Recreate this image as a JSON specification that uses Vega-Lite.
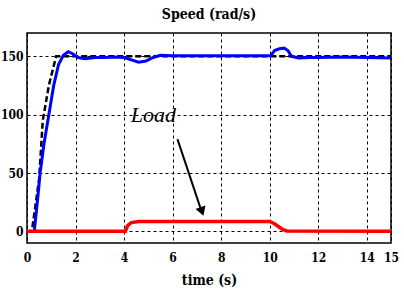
{
  "$schema": "https://vega.github.io/schema/vega-lite/v6.json",
  "width": 364,
  "height": 210,
  "autosize": {"type": "none"},
  "padding": {"left": 27, "top": 33, "right": 13, "bottom": 54},
  "background": "white",
  "title": {"text": "Speed (rad/s)", "font": "DejaVu Serif Condensed", "fontSize": 14, "fontWeight": "bold", "color": "black", "anchor": "middle", "offset": 11},
  "config": {
    "view": {"stroke": "black", "strokeWidth": 1.5},
    "axis": {"labelFont": "DejaVu Serif Condensed", "labelFontWeight": "bold", "labelFontSize": 12, "labelColor": "black", "ticks": false, "domain": false, "grid": true, "gridColor": "black", "gridDash": [3, 3], "gridOpacity": 1, "gridWidth": 1, "titleFont": "DejaVu Serif Condensed", "titleFontSize": 14, "titleFontWeight": "bold", "titleColor": "black"}
  },
  "datasets": {
    "ref": [
      {"t": 0, "v": 0}, {"t": 0.2, "v": 0}, {"t": 0.5, "v": 45}, {"t": 0.65, "v": 95}, {"t": 0.9, "v": 125}, {"t": 1.2, "v": 150}, {"t": 15, "v": 150}
    ],
    "speed": [
      {"t": 0.3, "v": 0}, {"t": 0.45, "v": 30}, {"t": 0.54, "v": 50}, {"t": 0.7, "v": 75}, {"t": 0.9, "v": 100}, {"t": 1.1, "v": 125}, {"t": 1.3, "v": 143}, {"t": 1.5, "v": 151}, {"t": 1.7, "v": 154}, {"t": 1.9, "v": 152}, {"t": 2.1, "v": 149}, {"t": 2.4, "v": 148}, {"t": 2.8, "v": 149}, {"t": 3.2, "v": 149}, {"t": 3.6, "v": 149.5}, {"t": 4.0, "v": 149}, {"t": 4.3, "v": 147}, {"t": 4.6, "v": 145}, {"t": 4.9, "v": 146}, {"t": 5.2, "v": 149}, {"t": 5.5, "v": 151}, {"t": 6, "v": 150.5}, {"t": 7, "v": 150.5}, {"t": 8, "v": 150.5}, {"t": 9, "v": 150.5}, {"t": 10.05, "v": 150.5}, {"t": 10.2, "v": 155}, {"t": 10.4, "v": 156.5}, {"t": 10.6, "v": 157}, {"t": 10.75, "v": 155}, {"t": 10.9, "v": 150}, {"t": 11.2, "v": 148.5}, {"t": 11.6, "v": 149}, {"t": 12, "v": 149}, {"t": 13, "v": 149.5}, {"t": 14, "v": 149}, {"t": 15, "v": 148.5}
    ],
    "load": [
      {"t": 0, "v": 0}, {"t": 4.05, "v": 0}, {"t": 4.15, "v": 5}, {"t": 4.3, "v": 7.5}, {"t": 4.6, "v": 8.5}, {"t": 10, "v": 8.5}, {"t": 10.2, "v": 6.5}, {"t": 10.5, "v": 2}, {"t": 10.7, "v": 0.3}, {"t": 15, "v": 0}
    ],
    "label": [{"t": 5.21, "v": 99.6, "text": "Load"}],
    "arrow": [{"t": 6.2, "v": 79, "t2": 7.18, "v2": 18}],
    "head": [{"t": 7.21, "v": 17}]
  },
  "encoding": {
    "x": {"field": "t", "type": "quantitative", "scale": {"domain": [0, 15], "nice": false, "zero": false}, "axis": {"values": [0, 2, 4, 6, 8, 10, 12, 14, 15], "title": "time (s)", "labelPadding": 9, "titlePadding": 10, "labelFlush": false}},
    "y": {"field": "v", "type": "quantitative", "scale": {"domain": [-10, 170], "nice": false, "zero": false}, "axis": {"values": [0, 50, 100, 150], "title": null, "labelPadding": 4}}
  },
  "layer": [
    {"data": {"name": "ref"}, "mark": {"type": "line", "color": "black", "strokeWidth": 2.5, "strokeDash": [6, 3]}},
    {"data": {"name": "speed"}, "mark": {"type": "line", "color": "#0000ff", "strokeWidth": 3}},
    {"data": {"name": "load"}, "mark": {"type": "line", "color": "#ff0000", "strokeWidth": 3.5}},
    {"data": {"name": "label"}, "mark": {"type": "text", "font": "Liberation Serif", "fontStyle": "italic", "fontSize": 22, "color": "black", "baseline": "middle", "align": "center"}, "encoding": {"text": {"field": "text"}}},
    {"data": {"name": "arrow"}, "mark": {"type": "rule", "color": "black", "strokeWidth": 2}, "encoding": {"x2": {"field": "t2"}, "y2": {"field": "v2"}}},
    {"data": {"name": "head"}, "mark": {"type": "point", "shape": "triangle-down", "filled": true, "color": "black", "opacity": 1, "size": 110, "angle": 341}}
  ]
}
